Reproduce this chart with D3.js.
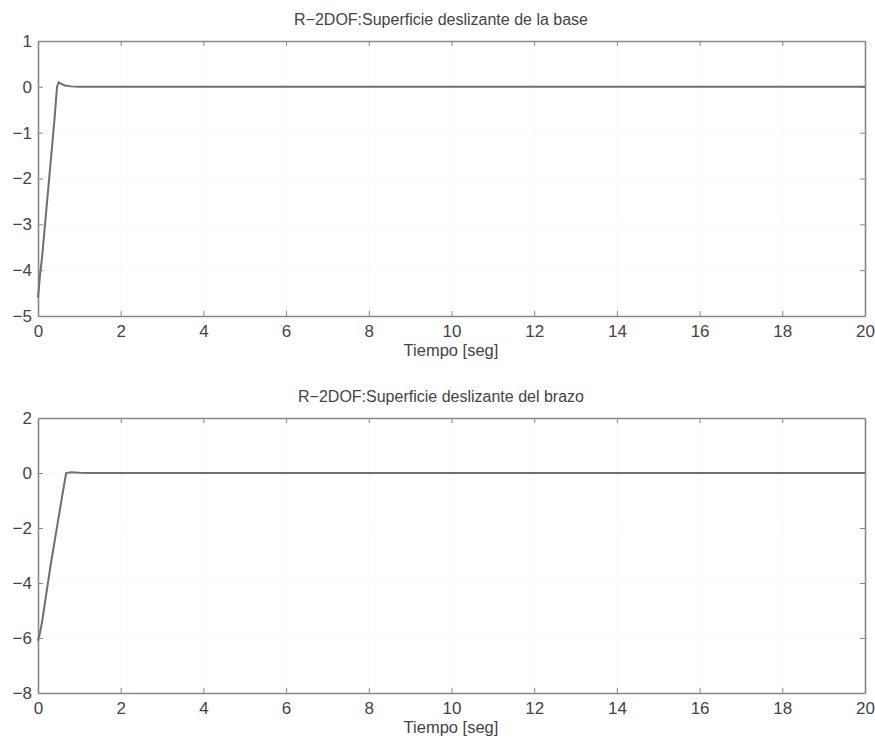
<!DOCTYPE html>
<html>
<head>
<meta charset="utf-8">
<script src="https://cdn.jsdelivr.net/npm/d3@7"></script>
<style>
  body { margin: 0; background: #fff; }
  svg text { font-family: "Liberation Sans", Arial, sans-serif; fill: #444; }
</style>
</head>
<body>
<div id="container"></div>
<script>
// sliding surface of the base (top panel)
var baseTime  = [0, 0.05, 0.1, 0.2, 0.3, 0.4, 0.46, 0.5, 0.55, 0.65, 0.8, 1.0, 1.5, 20];
var baseValue = [-4.6, -4.1, -3.7, -2.7, -1.7, -0.7, 0.0, 0.1, 0.07, 0.03, 0.01, 0, 0, 0];

// sliding surface of the arm (bottom panel)
var armTime  = [0, 0.05, 0.1, 0.2, 0.3, 0.4, 0.5, 0.6, 0.68, 0.8, 1.0, 1.3, 20];
var armValue = [-6.1, -5.8, -5.4, -4.4, -3.4, -2.5, -1.6, -0.7, 0.0, 0.03, 0.01, 0, 0];

var xTicks = [0, 2, 4, 6, 8, 10, 12, 14, 16, 18, 20];
var baseTicks = [1, 0, -1, -2, -3, -4, -5];
var armTicks = [2, 0, -2, -4, -6, -8];

var titles = ["R\u22122DOF:Superficie deslizante de la base", "R\u22122DOF:Superficie deslizante del brazo"];
var xLabel = "Tiempo [seg]";

var width = 875, height = 740;

var svg = d3.select("#container").append("svg")
  .attr("width", width)
  .attr("height", height);

function drawPanel(top, bottom, yDomain, yTicks, tt, vv, title) {
  var left = 38, right = 865;

  var x = d3.scaleLinear().domain([0, 20]).range([left, right]);
  var y = d3.scaleLinear().domain(yDomain).range([bottom, top]);

  var g = svg.append("g");

  // faint grid
  g.selectAll(".gx").data(xTicks.slice(1, -1)).enter().append("line")
    .attr("x1", function(d) { return x(d); }).attr("x2", function(d) { return x(d); })
    .attr("y1", top).attr("y2", bottom)
    .attr("stroke", "#eee").attr("stroke-dasharray", "1,3");
  g.selectAll(".gy").data(yTicks.slice(1, -1)).enter().append("line")
    .attr("y1", function(d) { return y(d); }).attr("y2", function(d) { return y(d); })
    .attr("x1", left).attr("x2", right)
    .attr("stroke", "#eee").attr("stroke-dasharray", "1,3");

  // axes with inward ticks
  var axB = g.append("g").attr("transform", "translate(0," + bottom + ")")
    .call(d3.axisBottom(x).tickValues(xTicks).tickSizeInner(-5).tickSizeOuter(0).tickPadding(9));
  var axT = g.append("g").attr("transform", "translate(0," + top + ")")
    .call(d3.axisTop(x).tickValues(xTicks).tickSizeInner(-5).tickSizeOuter(0).tickFormat(""));
  var axL = g.append("g").attr("transform", "translate(" + left + ",0)")
    .call(d3.axisLeft(y).tickValues(yTicks).tickSizeInner(-5).tickSizeOuter(0).tickPadding(6)
      .tickFormat(function(d) { return d < 0 ? "\u2212" + (-d) : d; }));
  var axR = g.append("g").attr("transform", "translate(" + right + ",0)")
    .call(d3.axisRight(y).tickValues(yTicks).tickSizeInner(-5).tickSizeOuter(0).tickFormat(""));

  [axB, axT, axL, axR].forEach(function(a) {
    a.select(".domain").attr("stroke", "#888").attr("stroke-width", 1.6);
    a.selectAll(".tick line").attr("stroke", "#888");
    a.selectAll("text").style("font-size", "17px").attr("fill", "#555");
  });

  // data line
  var pts = tt.map(function(t, i) { return [t, vv[i]]; });
  g.append("path")
    .datum(pts)
    .attr("fill", "none")
    .attr("stroke", "#6f6f6f")
    .attr("stroke-width", 2)
    .attr("d", d3.line()
      .x(function(d) { return x(d[0]); })
      .y(function(d) { return y(d[1]); }));

  // title and x label
  g.append("text")
    .attr("x", 441).attr("y", top - 16)
    .attr("text-anchor", "middle")
    .style("font-size", "16px")
    .text(title);

  g.append("text")
    .attr("x", 451).attr("y", bottom + 40)
    .attr("text-anchor", "middle")
    .style("font-size", "16.5px")
    .text(xLabel);
}

drawPanel(41, 316, [-5, 1], baseTicks, baseTime, baseValue, titles[0]);
drawPanel(418, 693, [-8, 2], armTicks, armTime, armValue, titles[1]);
</script>
</body>
</html>
